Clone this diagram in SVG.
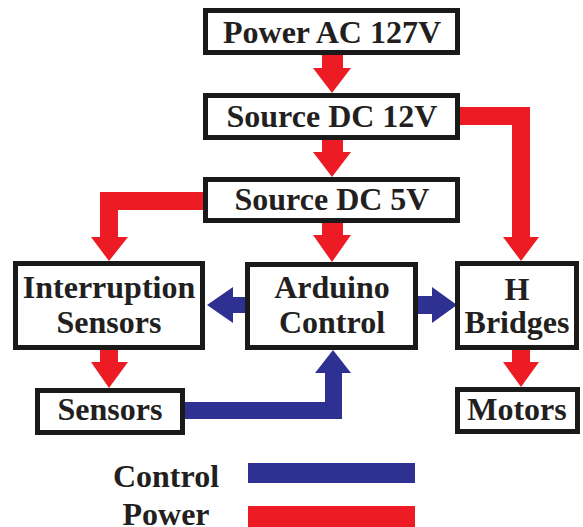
<svg xmlns="http://www.w3.org/2000/svg" width="583" height="527" viewBox="0 0 583 527">
<style>
.box{fill:#fff;stroke:#1a1a1a;stroke-width:5}
.t{font-family:"Liberation Serif","Times New Roman",serif;font-weight:bold;font-size:32px;fill:#231f20;text-anchor:middle}
.red{fill:#ed1c24}
.blue{fill:#2e3192}
</style>
<rect width="583" height="527" fill="#fff"/>
<g id="connectors">
<polygon class="red" points="322,55 343,55 343,68 351,68 332,93 313,68 322,68"/>
<polygon class="red" points="322,140 343,140 343,152 351,152 332,177 313,152 322,152"/>
<polygon class="red" points="322,223 343,223 343,235 351,235 332,262 313,235 322,235"/>
<polygon class="red" points="203,192 100,192 100,237 91,237 109,261 128,237 118,237 118,210 203,210"/>
<polygon class="red" points="460,107 530,107 530,237 539,237 521,261 503,237 512,237 512,125 460,125"/>
<polygon class="red" points="512,349 530,349 530,362 539,362 521,387 503,362 512,362"/>
<polygon class="red" points="100,350 118,350 118,362 128,362 109,388 91,362 100,362"/>
<polygon class="blue" points="246,297 233,297 233,287 207,305 233,323 233,313 246,313"/>
<polygon class="blue" points="417,296 432,296 432,287 457,305 432,323 432,314 417,314"/>
<polygon class="blue" points="185,402 325,402 325,373 315,373 333,350 351,373 342,373 342,419 185,419"/>
</g>
<g id="power-ac"><rect class="box" x="205.5" y="10.5" width="252" height="42"/><text class="t" x="332" y="43">Power AC 127V</text></g>
<g id="source-12v"><rect class="box" x="205.5" y="95.5" width="252" height="42"/><text class="t" x="332" y="127">Source DC 12V</text></g>
<g id="source-5v"><rect class="box" x="205.5" y="179.5" width="252" height="41"/><text class="t" x="332" y="210">Source DC 5V</text></g>
<g id="interruption"><rect class="box" x="15.5" y="263.5" width="187" height="84"/><text class="t" x="109" y="298">Interruption</text><text class="t" x="109" y="333">Sensors</text></g>
<g id="arduino"><rect class="box" x="247.5" y="264.5" width="168" height="83"/><text class="t" x="332" y="298">Arduino</text><text class="t" x="332" y="333">Control</text></g>
<g id="hbridges"><rect class="box" x="457.5" y="263.5" width="119" height="84"/><text class="t" x="517" y="300">H</text><text class="t" x="517" y="333">Bridges</text></g>
<g id="sensors"><rect class="box" x="37.5" y="390.5" width="145" height="42"/><text class="t" x="110" y="420">Sensors</text></g>
<g id="motors"><rect class="box" x="457.5" y="389.5" width="120" height="42"/><text class="t" x="517" y="420">Motors</text></g>
<g id="legend">
<text class="t" x="166" y="487">Control</text>
<rect class="blue" x="248" y="463" width="167" height="20"/>
<text class="t" x="166" y="525">Power</text>
<rect class="red" x="248" y="506" width="167" height="21"/>
</g>
</svg>
